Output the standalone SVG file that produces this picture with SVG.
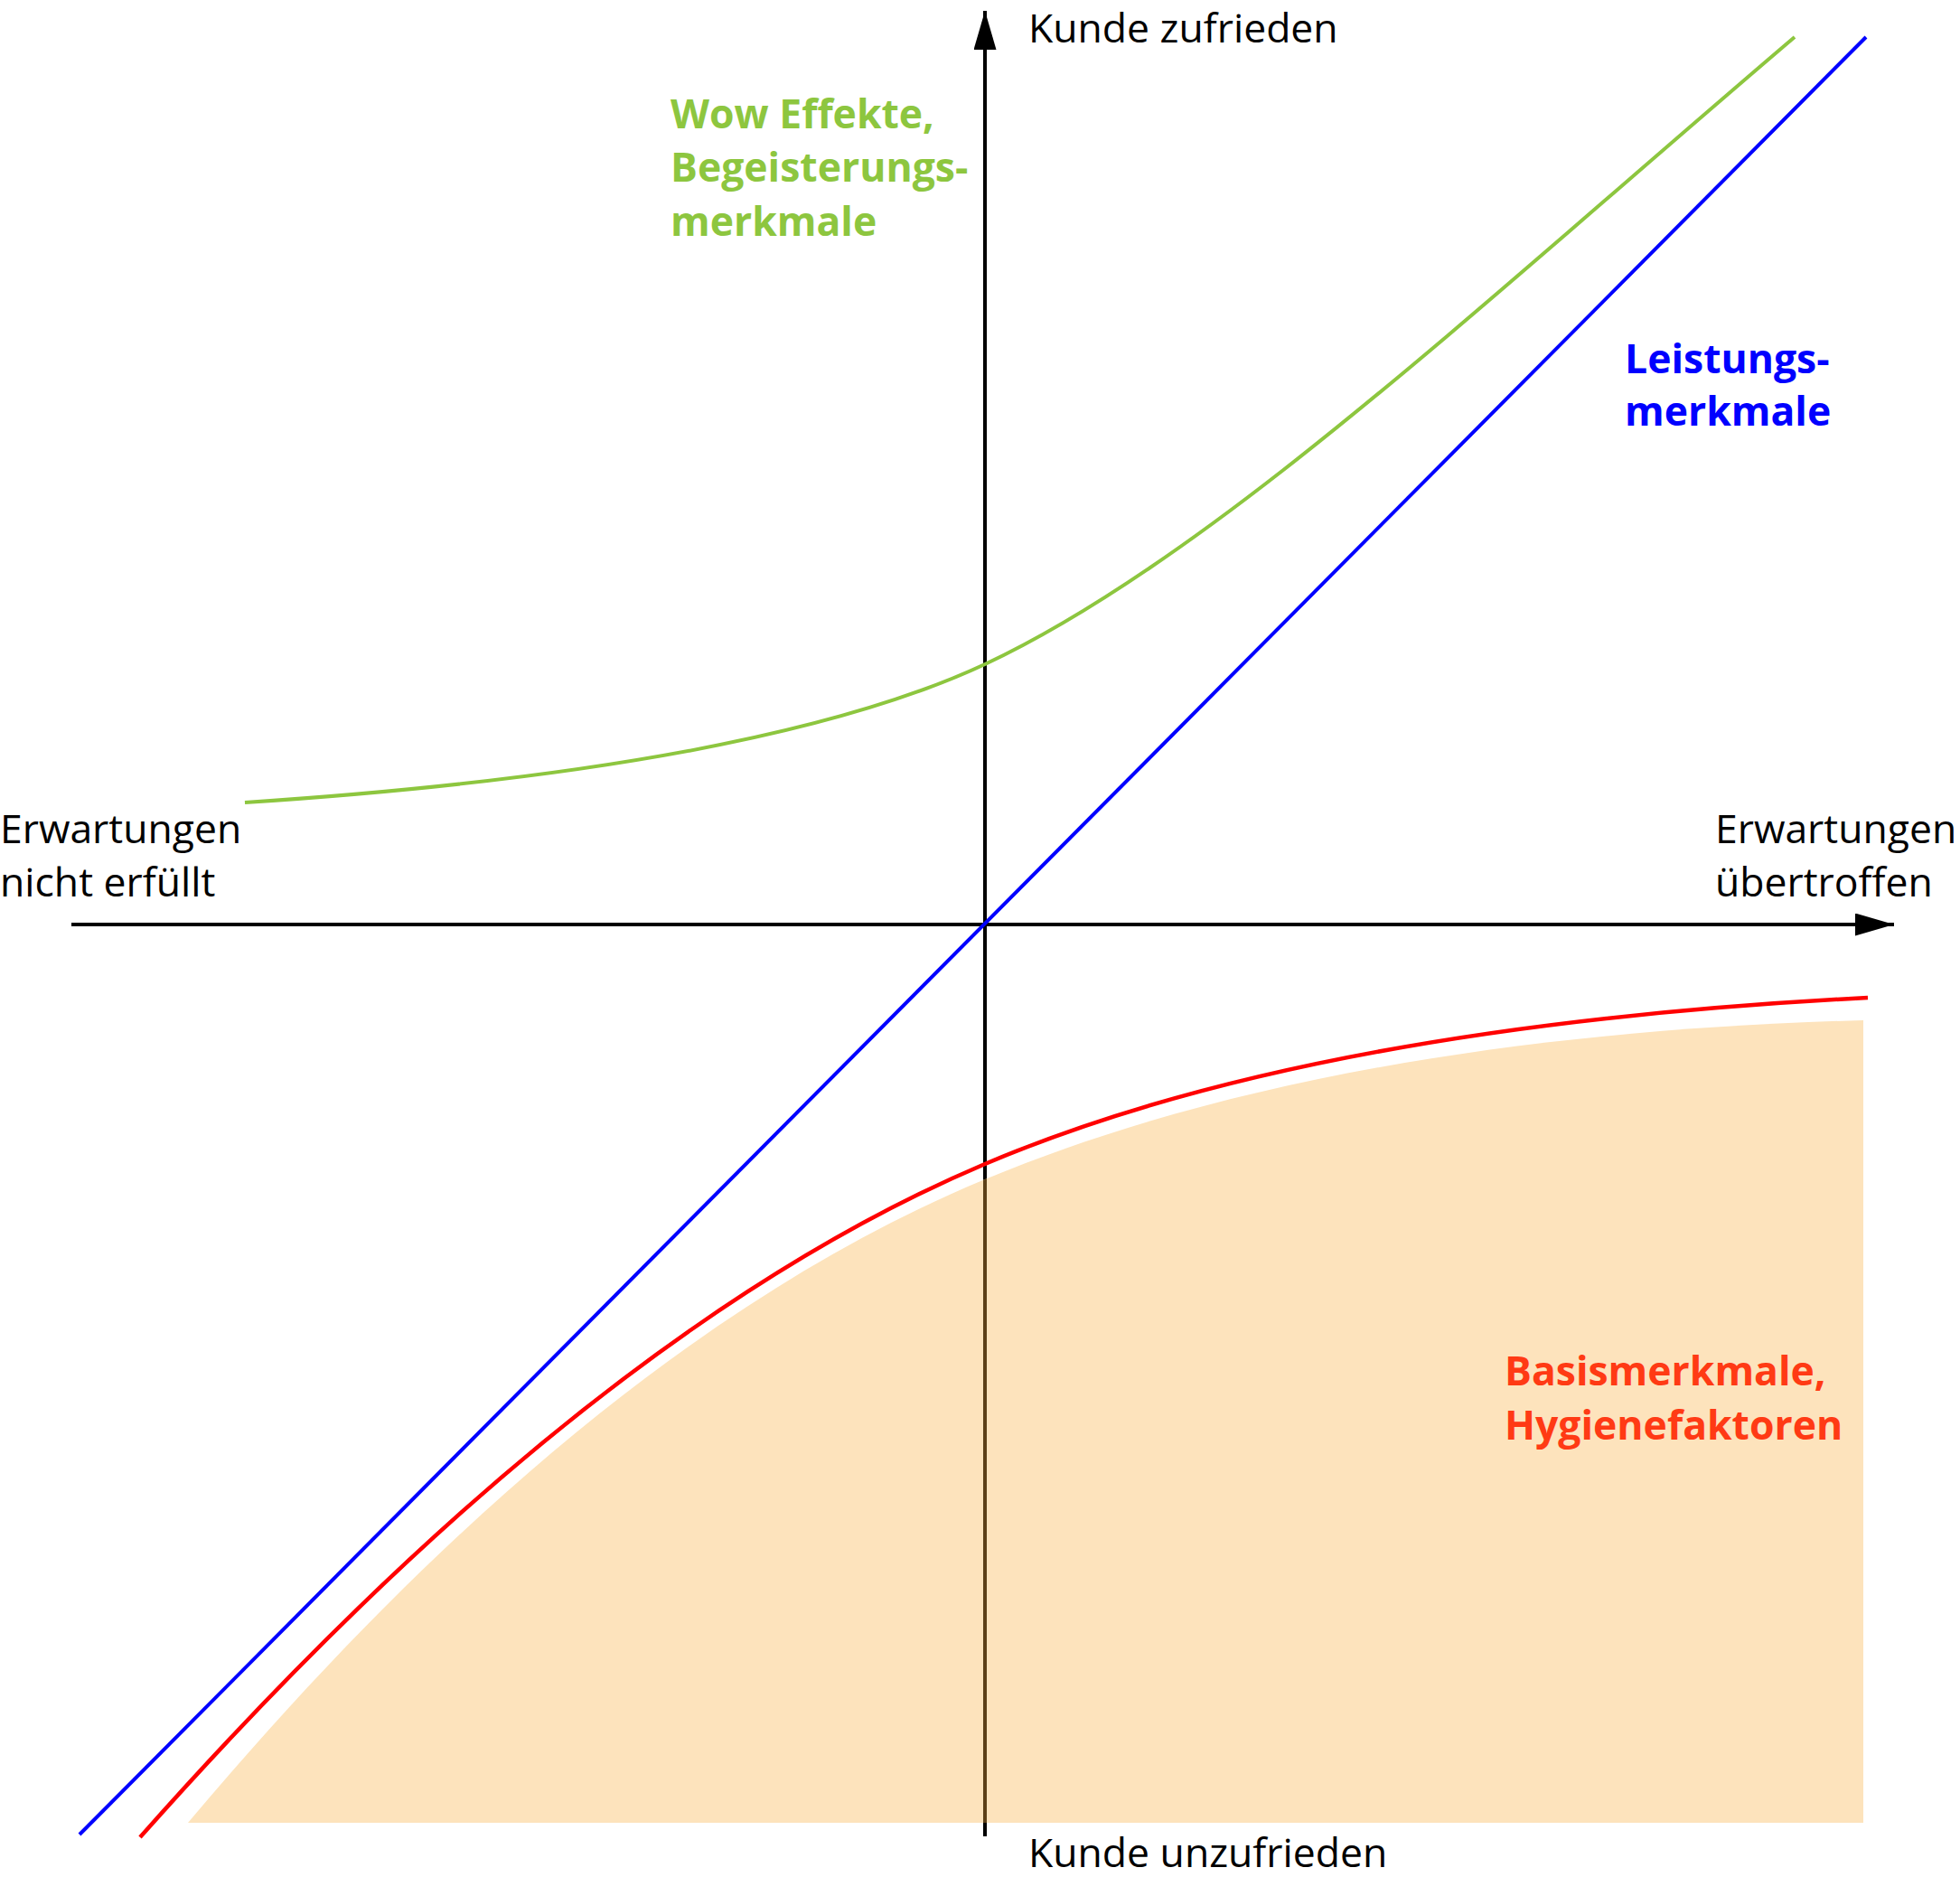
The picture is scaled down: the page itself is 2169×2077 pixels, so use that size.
<svg xmlns="http://www.w3.org/2000/svg" width="2169" height="2077" viewBox="0 0 2169 2077">
<style>
.lbl{font-family:"Open Sans","Liberation Sans",sans-serif;font-size:44.5px;fill:#000}
.b{font-family:"Open Sans","Liberation Sans",sans-serif;font-size:44.5px;font-weight:bold}
.axis{stroke:#000;stroke-width:4;fill:none}
.curve{fill:none;stroke-linecap:butt}
</style>
<defs>
<marker id="arr" markerUnits="userSpaceOnUse" markerWidth="44" markerHeight="26" refX="43" refY="12.5" orient="auto" viewBox="0 0 44 26">
<path d="M0,0 L43,12.5 L0,25 z" fill="#000"/>
</marker>
<clipPath id="fillclip">
<path d="M208,2017 C505,1664 799,1426 1090,1305 C1345,1199 1669,1140 2062,1129 L2062,2017 Z"/>
</clipPath>
</defs>
<g id="axes">
<line class="axis" x1="79" y1="1023" x2="2096" y2="1023" marker-end="url(#arr)"/>
<line class="axis" x1="1090" y1="2032" x2="1090" y2="12" marker-end="url(#arr)"/>
</g>
<g id="basis-area">
<path d="M208,2017 C505,1664 799,1426 1090,1305 C1345,1199 1669,1140 2062,1129 L2062,2017 Z" fill="#FDE3BC"/>
<line x1="1090" y1="1290" x2="1090" y2="2032" stroke="#5C4018" stroke-width="4" clip-path="url(#fillclip)"/>
</g>
<g id="connectors">
<path id="leistung-line" class="curve" d="M88,2030 L2065,41" stroke="#0000FF" stroke-width="4"/>
<path id="basis-curve" class="curve" d="M155,2033 C484,1662 795,1413 1090,1288 C1330,1186 1656,1125 2067,1104" stroke="#FF0000" stroke-width="4.5"/>
<path id="wow-curve" class="curve" d="M271,888 C652,863 925,812 1090,735 C1340,618 1636,339 1986,41" stroke="#8DC63F" stroke-width="4"/>
</g>
<g id="label-top"><text class="lbl" x="1138" y="47">Kunde zufrieden</text></g>
<g id="label-bottom"><text class="lbl" x="1138" y="2066">Kunde unzufrieden</text></g>
<g id="label-left"><text class="lbl" x="0" y="933">Erwartungen</text><text class="lbl" x="0" y="992">nicht erfüllt</text></g>
<g id="label-right"><text class="lbl" x="1898" y="933">Erwartungen</text><text class="lbl" x="1898" y="992">übertroffen</text></g>
<g id="wow-label" fill="#8DC63F"><text class="b" x="742" y="142">Wow Effekte,</text><text class="b" x="742" y="201">Begeisterungs-</text><text class="b" x="742" y="261">merkmale</text></g>
<g id="leistung-label" fill="#0000FF"><text class="b" x="1798" y="413">Leistungs-</text><text class="b" x="1798" y="471">merkmale</text></g>
<g id="basis-label" fill="#FF3A14"><text class="b" x="1665" y="1533">Basismerkmale,</text><text class="b" x="1665" y="1593">Hygienefaktoren</text></g>
</svg>
